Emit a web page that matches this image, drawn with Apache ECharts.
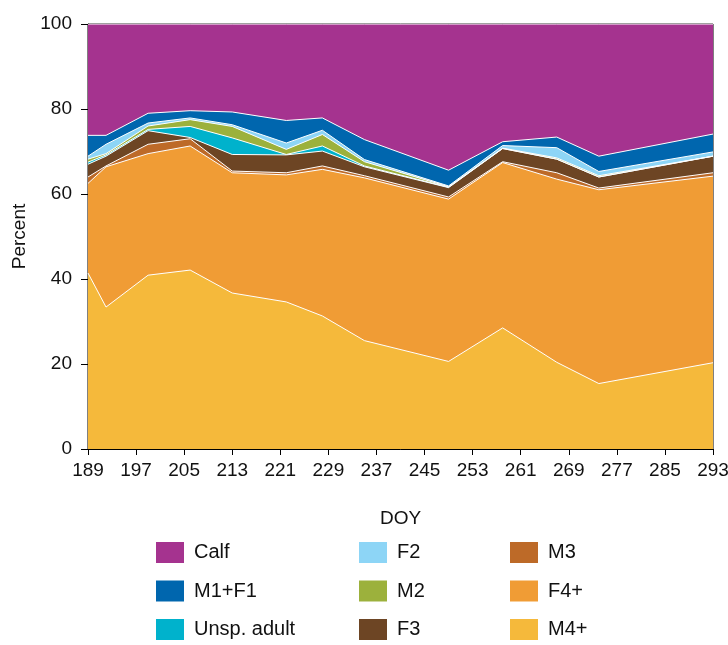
<!DOCTYPE html>
<html>
<head>
<meta charset="utf-8">
<script src="https://cdn.jsdelivr.net/npm/echarts@6/dist/echarts.min.js"></script>
<style>
  html, body { margin: 0; padding: 0; background: #fff; }
  #chart { width: 728px; height: 645px; }
</style>
</head>
<body>
<div id="chart"></div>
<script>
// sampling days (DOY)
var doy = [189, 192, 199, 206, 213, 222, 228, 235, 249, 258, 267, 274, 293];

// percent of each class, bottom of the stack first
var m4plus = [41.4, 33.4, 40.9, 42.1, 36.7, 34.6, 31.3, 25.5, 20.6, 28.5, 20.4, 15.4, 20.3];
var f4plus = [21.1, 33.0, 28.6, 29.2, 28.3, 29.9, 34.5, 38.3, 38.2, 38.9, 43.1, 45.6, 43.9];
var m3 = [1.5, 0.2, 2.2, 1.7, 0.4, 0.5, 0.8, 0.5, 0.5, 0.2, 1.5, 0.4, 0.8];
var f3 = [3.0, 2.3, 3.2, 0.3, 3.9, 4.2, 3.5, 2.1, 2.2, 3.1, 3.2, 2.6, 3.9];
var unsp = [0.5, 0.3, 0.3, 2.6, 3.9, 0.1, 1.2, 0.2, 0.1, 0, 0, 0, 0];
var m2 = [0.7, 0.3, 0.8, 1.6, 2.7, 1.2, 2.7, 1.0, 0.1, 0.1, 0.3, 0.3, 0];
var f2 = [0.7, 2.2, 0.7, 0.4, 0.4, 1.5, 1.0, 0.5, 0.2, 0.6, 2.4, 1.0, 1.0];
var m1f1 = [4.9, 2.1, 2.3, 1.7, 3.0, 5.3, 2.9, 4.7, 3.7, 0.9, 2.5, 3.6, 4.2];
var calf = [26.2, 26.2, 21.0, 20.4, 20.7, 22.7, 22.1, 27.2, 34.4, 27.7, 26.6, 31.1, 25.9];

var xStart = 189, xEnd = 293, xStep = 8;
var yTicks = [0, 20, 40, 60, 80, 100];

var layers = [
  { name: 'M4+', data: m4plus, color: '#F5B93B' },
  { name: 'F4+', data: f4plus, color: '#F09C35' },
  { name: 'M3', data: m3, color: '#BD6A28' },
  { name: 'F3', data: f3, color: '#6D4524' },
  { name: 'Unsp. adult', data: unsp, color: '#00B2CC' },
  { name: 'M2', data: m2, color: '#9CB13C' },
  { name: 'F2', data: f2, color: '#8DD5F6' },
  { name: 'M1+F1', data: m1f1, color: '#0066AE' },
  { name: 'Calf', data: calf, color: '#A5338F' }
];

// running totals so each layer's top edge sits on the one below;
// the top layers are drawn first so lower ones paint over them
var running = doy.map(function () { return 0; });
var series = layers.map(function (l) {
  running = running.map(function (s, i) { return s + l.data[i]; });
  var tops = running.slice();
  return {
    name: l.name,
    type: 'line',
    symbol: 'none',
    color: l.color,
    lineStyle: { color: '#fff', width: 1 },
    areaStyle: { color: l.color, opacity: 1, origin: 'start' },
    data: doy.map(function (d, i) { return [d - xStart, tops[i]]; })
  };
}).reverse();

var legendText = { fontFamily: 'Liberation Sans', fontSize: 20, color: '#111', padding: [0, 0, 0, 5] };
function legendCol(names, left) {
  return {
    orient: 'vertical',
    left: left,
    top: 542,
    padding: 0,
    itemWidth: 28,
    itemHeight: 21,
    itemGap: 17.5,
    icon: 'rect',
    textStyle: legendText,
    data: names
  };
}

var myChart = echarts.init(document.getElementById('chart'));
var option = {
  animation: false,
  backgroundColor: '#fff',
  grid: {
    left: 88, right: 15, top: 24, bottom: 196,
    outerBoundsMode: 'none',
    show: true, borderColor: '#000', borderWidth: 1, backgroundColor: 'transparent'
  },
  legend: [
    legendCol(['Calf', 'M1+F1', 'Unsp. adult'], 156),
    legendCol(['F2', 'M2', 'F3'], 359),
    legendCol(['M3', 'F4+', 'M4+'], 510)
  ],
  xAxis: {
    type: 'value',
    min: 0,
    max: xEnd - xStart,
    interval: xStep,
    name: 'DOY',
    nameLocation: 'middle',
    nameGap: 60,
    nameTextStyle: { fontFamily: 'Liberation Sans', fontSize: 19, color: '#111' },
    axisLine: { lineStyle: { color: '#000', width: 1 } },
    axisTick: { show: true, length: 6, lineStyle: { color: '#000' } },
    axisLabel: {
      fontFamily: 'Liberation Sans', fontSize: 19, color: '#111', margin: 12,
      formatter: function (v) { return v + xStart; }
    },
    splitLine: { show: false }
  },
  yAxis: {
    type: 'value',
    min: yTicks[0],
    max: yTicks[yTicks.length - 1],
    interval: 20,
    name: 'Percent',
    nameLocation: 'middle',
    nameGap: 56,
    nameTextStyle: { fontFamily: 'Liberation Sans', fontSize: 19, color: '#111' },
    axisLine: { show: true, lineStyle: { color: '#000', width: 1 } },
    axisTick: { show: true, length: 7, lineStyle: { color: '#000' } },
    axisLabel: { fontFamily: 'Liberation Sans', fontSize: 19, color: '#111', margin: 16 },
    splitLine: { show: false }
  },
  series: series
};
myChart.setOption(option);
</script>
</body>
</html>
